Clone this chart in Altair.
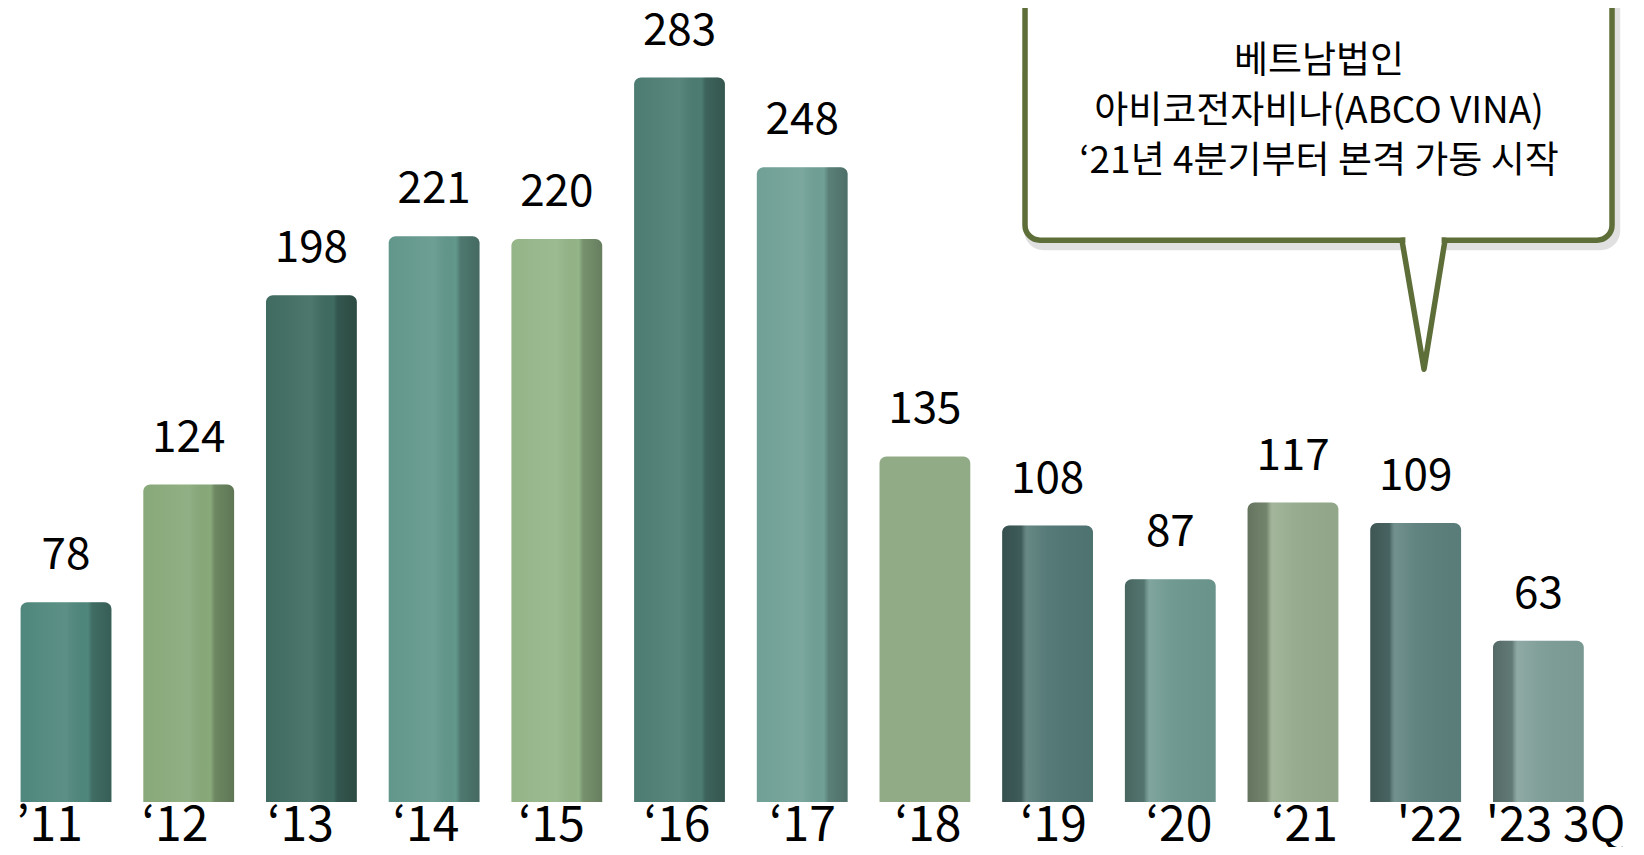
import altair as alt
import pandas as pd

# ---- data ----
years = ["’11", "‘12", "‘13", "‘14", "‘15", "‘16", "‘17", "‘18", "‘19", "‘20", "‘21", "'22", "'23 3Q"]
values = [78, 124, 198, 221, 220, 283, 248, 135, 108, 87, 117, 109, 63]
colors = ["#4f877c", "#88a97a", "#3f6b60", "#62978b", "#94b588", "#4c7c72", "#70a096",
          "#91ab87", "#4f7572", "#6b968e", "#94aa8b", "#5b7f7c", "#7d9c96"]
sides = ["right"] * 7 + ["flat"] + ["left"] * 5

note_lines = ["베트남법인", "아비코전자비나(ABCO VINA)", "‘21년 4분기부터 본격 가동 시작"]
note_y = [289.2, 269.4, 250.2]

FONT = "Noto Sans CJK KR"
OLIVE = "#5e6e39"

df = pd.DataFrame({"idx": list(range(len(years))), "year": years, "value": values,
                   "color": colors, "side": sides})

XA = -0.4727
XB = XA + 1620 / 122.7
xscale = alt.Scale(domain=[XA, XB], nice=False, zero=False)
yscale = alt.Scale(domain=[0, 310.2], nice=False, zero=False)


def X(field):
    return alt.X(field, scale=xscale, axis=None, title=None)


def Y(field):
    return alt.Y(field, scale=yscale, axis=None, title=None)


base = alt.Chart(df).transform_calculate(
    x0="datum.idx - 0.37", x1="datum.idx + 0.37",
    lx="datum.idx * 1.0228 - 0.1345", ly="-15.2"
)

bars = base.mark_bar(cornerRadiusTopLeft=7, cornerRadiusTopRight=7).encode(
    x=X("x0:Q"), x2="x1:Q",
    y=Y("value:Q"), y2=alt.datum(0),
    color=alt.Color("color:N", scale=None),
)

grad_right = alt.Gradient(
    gradient="linear", x1=0, x2=1, y1=0, y2=0,
    stops=[
        alt.GradientStop(color="rgba(255,255,255,0)", offset=0),
        alt.GradientStop(color="rgba(255,255,255,0.08)", offset=0.5),
        alt.GradientStop(color="rgba(0,0,0,0)", offset=0.74),
        alt.GradientStop(color="rgba(0,0,0,0.2)", offset=0.79),
        alt.GradientStop(color="rgba(0,0,0,0.3)", offset=1),
    ],
)
grad_left = alt.Gradient(
    gradient="linear", x1=0, x2=1, y1=0, y2=0,
    stops=[
        alt.GradientStop(color="rgba(0,0,0,0.32)", offset=0),
        alt.GradientStop(color="rgba(0,0,0,0.22)", offset=0.21),
        alt.GradientStop(color="rgba(255,255,255,0.14)", offset=0.27),
        alt.GradientStop(color="rgba(255,255,255,0.04)", offset=0.5),
        alt.GradientStop(color="rgba(0,0,0,0.02)", offset=1),
    ],
)

shade_r = base.transform_filter("datum.side == 'right'").mark_bar(
    cornerRadiusTopLeft=7, cornerRadiusTopRight=7, fill=grad_right
).encode(x=X("x0:Q"), x2="x1:Q", y=Y("value:Q"), y2=alt.datum(0))

shade_l = base.transform_filter("datum.side == 'left'").mark_bar(
    cornerRadiusTopLeft=7, cornerRadiusTopRight=7, fill=grad_left
).encode(x=X("x0:Q"), x2="x1:Q", y=Y("value:Q"), y2=alt.datum(0))

value_labels = base.mark_text(font=FONT, fontSize=44, color="black",
                              baseline="alphabetic", align="center", dy=-33).encode(
    x=X("idx:Q"), y=Y("value:Q"), text="value:Q",
)

year_labels = base.mark_text(font=FONT, fontSize=48, color="black",
                             baseline="alphabetic", align="center").encode(
    x=X("lx:Q"), y=Y("ly:Q"), text="year:N",
)

# ---- callout ----
box_df = pd.DataFrame({"x0": [7.816], "x1": [12.600], "y0": [219.5], "y1": [345.0]})
shadow_df = pd.DataFrame({"x0": [7.846], "x1": [12.630], "y0": [217.3], "y1": [345.0]})

shadow = alt.Chart(shadow_df).mark_rect(
    fill="transparent", stroke="#000000", strokeOpacity=0.12, strokeWidth=9,
    cornerRadius=15, clip=True
).encode(x=X("x0:Q"), x2="x1:Q", y=Y("y0:Q"), y2="y1:Q")

box = alt.Chart(box_df).mark_rect(
    fill="white", stroke=OLIVE, strokeWidth=5.5, cornerRadius=15, clip=True
).encode(x=X("x0:Q"), x2="x1:Q", y=Y("y0:Q"), y2="y1:Q")

ptr_df = pd.DataFrame({"px": [10.888, 11.068, 11.239], "py": [219.5, 169.1, 219.5],
                       "pb": [219.5, 219.5, 219.5]})
pointer = alt.Chart(ptr_df).mark_area(
    fill="white", stroke=OLIVE, strokeWidth=5.5, strokeJoin="round"
).encode(x=X("px:Q"), y=Y("py:Q"), y2="pb:Q")

cover_df = pd.DataFrame({"cx0": [10.888 + 0.028], "cx1": [11.239 - 0.028], "cy": [219.5]})
cover = alt.Chart(cover_df).mark_rule(color="white", strokeWidth=6.5).encode(
    x=X("cx0:Q"), x2="cx1:Q", y=Y("cy:Q"))

note_df = pd.DataFrame({"t": note_lines, "ny": note_y, "nx": [10.212] * 3})
note = alt.Chart(note_df).mark_text(font=FONT, fontSize=37, color="black",
                                    align="center", baseline="middle").encode(
    x=X("nx:Q"), y=Y("ny:Q"), text="t:N")

chart = alt.layer(
    bars, shade_r, shade_l, value_labels, year_labels,
    shadow, box, pointer, cover, note
).properties(
    width=1620, height=794,
    padding={"left": 0, "top": 0, "right": 0, "bottom": 45},
    autosize=alt.AutoSizeParams(type="none"),
    background="white",
).configure_view(strokeWidth=0)

chart.save("out.html", embed_options={"renderer": "svg", "actions": False})
